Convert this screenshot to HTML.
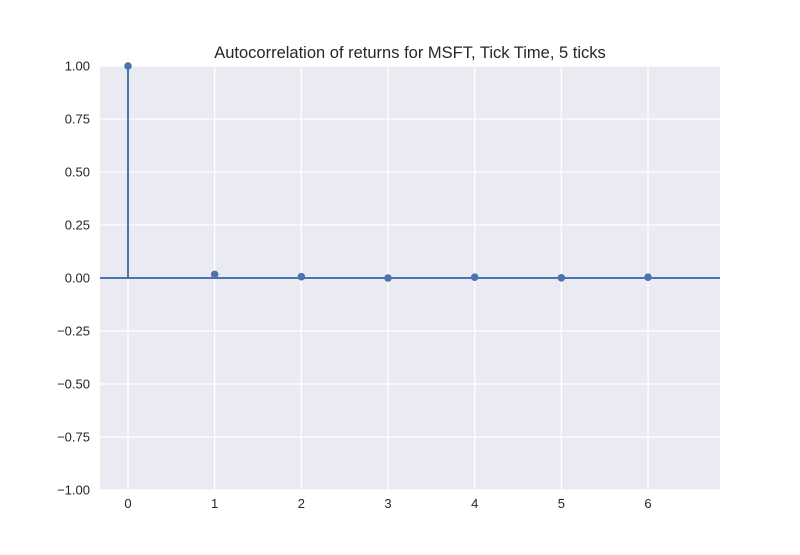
<!DOCTYPE html>
<html><head><meta charset="utf-8"><style>
body{margin:0;background:#fff;}
svg text{font-family:"Liberation Sans",sans-serif;fill:#262626;}
</style></head><body>
<svg id="c" width="800" height="550">
<rect x="100" y="66" width="620" height="424" fill="#eaeaf2"/>
<g id="grid"></g><g id="marks"></g><g id="ticks"></g>
<text x="410" y="58" font-size="16.5" text-anchor="middle">Autocorrelation of returns for MSFT, Tick Time, 5 ticks</text>
</svg>
<script>
const lags=[0,1,2,3,4,5,6];
const acf=[1,0.017,0.006,0,0.004,0.001,0.004];
const yTicks=[1,0.75,0.5,0.25,0,-0.25,-0.5,-0.75,-1];
const yLabels=["1.00","0.75","0.50","0.25","0.00","−0.25","−0.50","−0.75","−1.00"];
const NS="http://www.w3.org/2000/svg";
const X=v=>128+v*86.67;
const Y=v=>278-v*212;
function mk(t,a,p){const e=document.createElementNS(NS,t);for(const k in a)e.setAttribute(k,a[k]);document.getElementById(p).appendChild(e);return e;}
yTicks.forEach((v,i)=>{
 const g=mk('line',{x1:100,x2:720,y1:Y(v),y2:Y(v),stroke:'#fff','stroke-width':1.3},'grid');
 
 
 const t=mk('text',{x:90,y:Y(v)+4.5,'font-size':13,'text-anchor':'end'},'ticks');
 t.textContent=yLabels[i];
 
 
});
lags.forEach(l=>{
 const g=mk('line',{x1:X(l),x2:X(l),y1:66,y2:490,stroke:'#fff','stroke-width':1.3},'grid');
 
 
 const t=mk('text',{x:X(l),y:508,'font-size':13,'text-anchor':'middle'},'ticks');
 t.textContent=String(l);
 
 
});
const z=mk('line',{x1:100,x2:720,y1:Y(0),y2:Y(0),stroke:'#4c72b0','stroke-width':2},'marks');


lags.forEach((l,i)=>{
 const s=mk('line',{x1:X(l),x2:X(l),y1:Y(0),y2:Y(acf[i]),stroke:'#4c72b0','stroke-width':2},'marks');
 
 
 const c=mk('circle',{cx:X(l),cy:Y(acf[i]),r:3.8,fill:'#4c72b0'},'marks');
 
 
});
</script>
</body></html>
